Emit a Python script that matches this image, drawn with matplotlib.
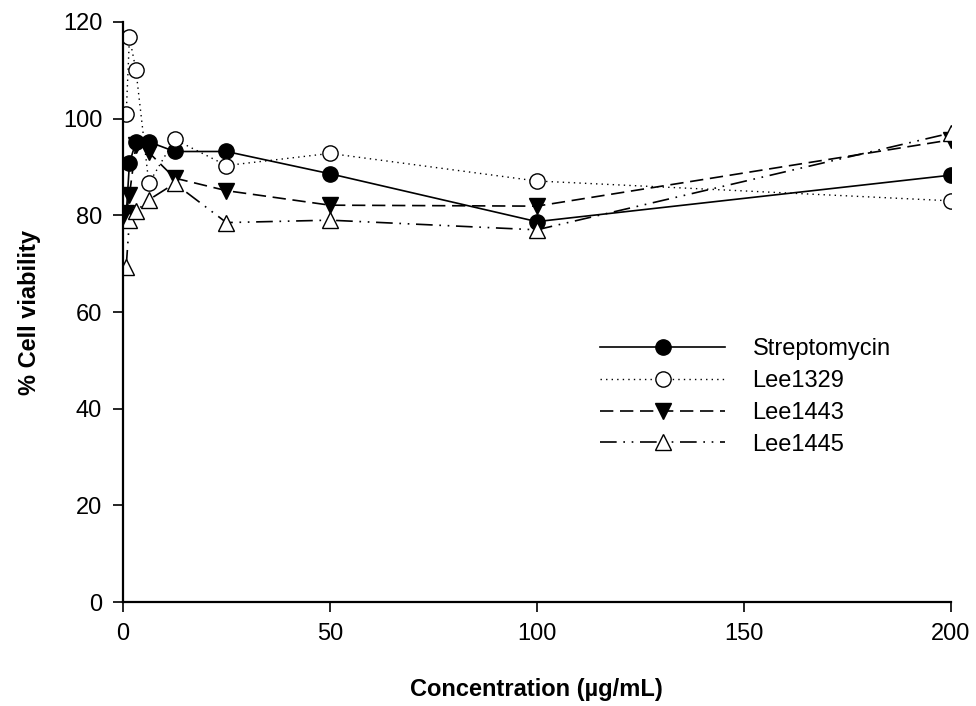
import matplotlib
matplotlib.use('Agg')
from matplotlib import pyplot as plt

plt.rcParams['font.family'] = ['Liberation Sans', 'DejaVu Sans']

# концентрации, мкг/мл
conc = [0.78125, 1.5625, 3.125, 6.25, 12.5, 25, 50, 100, 200]

streptomycin = [80.0, 90.8, 95.2, 95.2, 93.2, 93.2, 88.6, 78.7, 88.3]
lee1329 = [100.9, 116.8, 110.1, 86.6, 95.7, 90.3, 92.8, 87.1, 83.0]
lee1443 = [80.4, 84.2, 94.5, 93.0, 87.7, 85.1, 82.1, 81.9, 95.6]
lee1445 = [69.4, 79.0, 80.8, 83.2, 86.6, 78.5, 79.0, 77.0, 97.0]

x_ticks = [0, 50, 100, 150, 200]
y_ticks = [0, 20, 40, 60, 80, 100, 120]

fig = plt.figure(figsize=(9.76, 7.06), dpi=100)
ax = fig.add_axes([0.126, 0.147, 0.848, 0.822])

ms = 11
ax.plot(conc, streptomycin, color='black', linestyle='-', linewidth=1.2,
        marker='o', markersize=ms, markerfacecolor='black', label='Streptomycin')
ax.plot(conc, lee1329, color='black', linestyle=(0, (1, 3)), linewidth=1.0,
        marker='o', markersize=ms, markerfacecolor='white', label='Lee1329')
ax.plot(conc, lee1443, color='black', linestyle=(0, (8, 4)), linewidth=1.2,
        marker='v', markersize=ms, markerfacecolor='black', label='Lee1443')
ax.plot(conc, lee1445, color='black', linestyle=(0, (10, 4, 1, 4, 1, 4)), linewidth=1.2,
        marker='^', markersize=ms, markerfacecolor='white', label='Lee1445')

ax.set_xlim(0, 200)
ax.set_ylim(0, 120)
ax.set_xticks(x_ticks)
ax.set_yticks(y_ticks)
ax.spines['top'].set_visible(False)
ax.spines['right'].set_visible(False)
ax.spines['left'].set_linewidth(1.6)
ax.spines['bottom'].set_linewidth(1.6)
ax.tick_params(axis='both', direction='out', length=7, width=1.2, labelsize=17, pad=8)

ax.set_xlabel('Concentration (µg/mL)', fontsize=17, fontweight='bold', labelpad=24)
ax.set_ylabel('% Cell viability', fontsize=17, fontweight='bold', labelpad=16)

ax.legend(loc='upper left', bbox_to_anchor=(0.551, 0.492), frameon=False, fontsize=17,
          handlelength=5.3, handletextpad=1.15, labelspacing=0.42)

fig.savefig('out.png', dpi=100)
